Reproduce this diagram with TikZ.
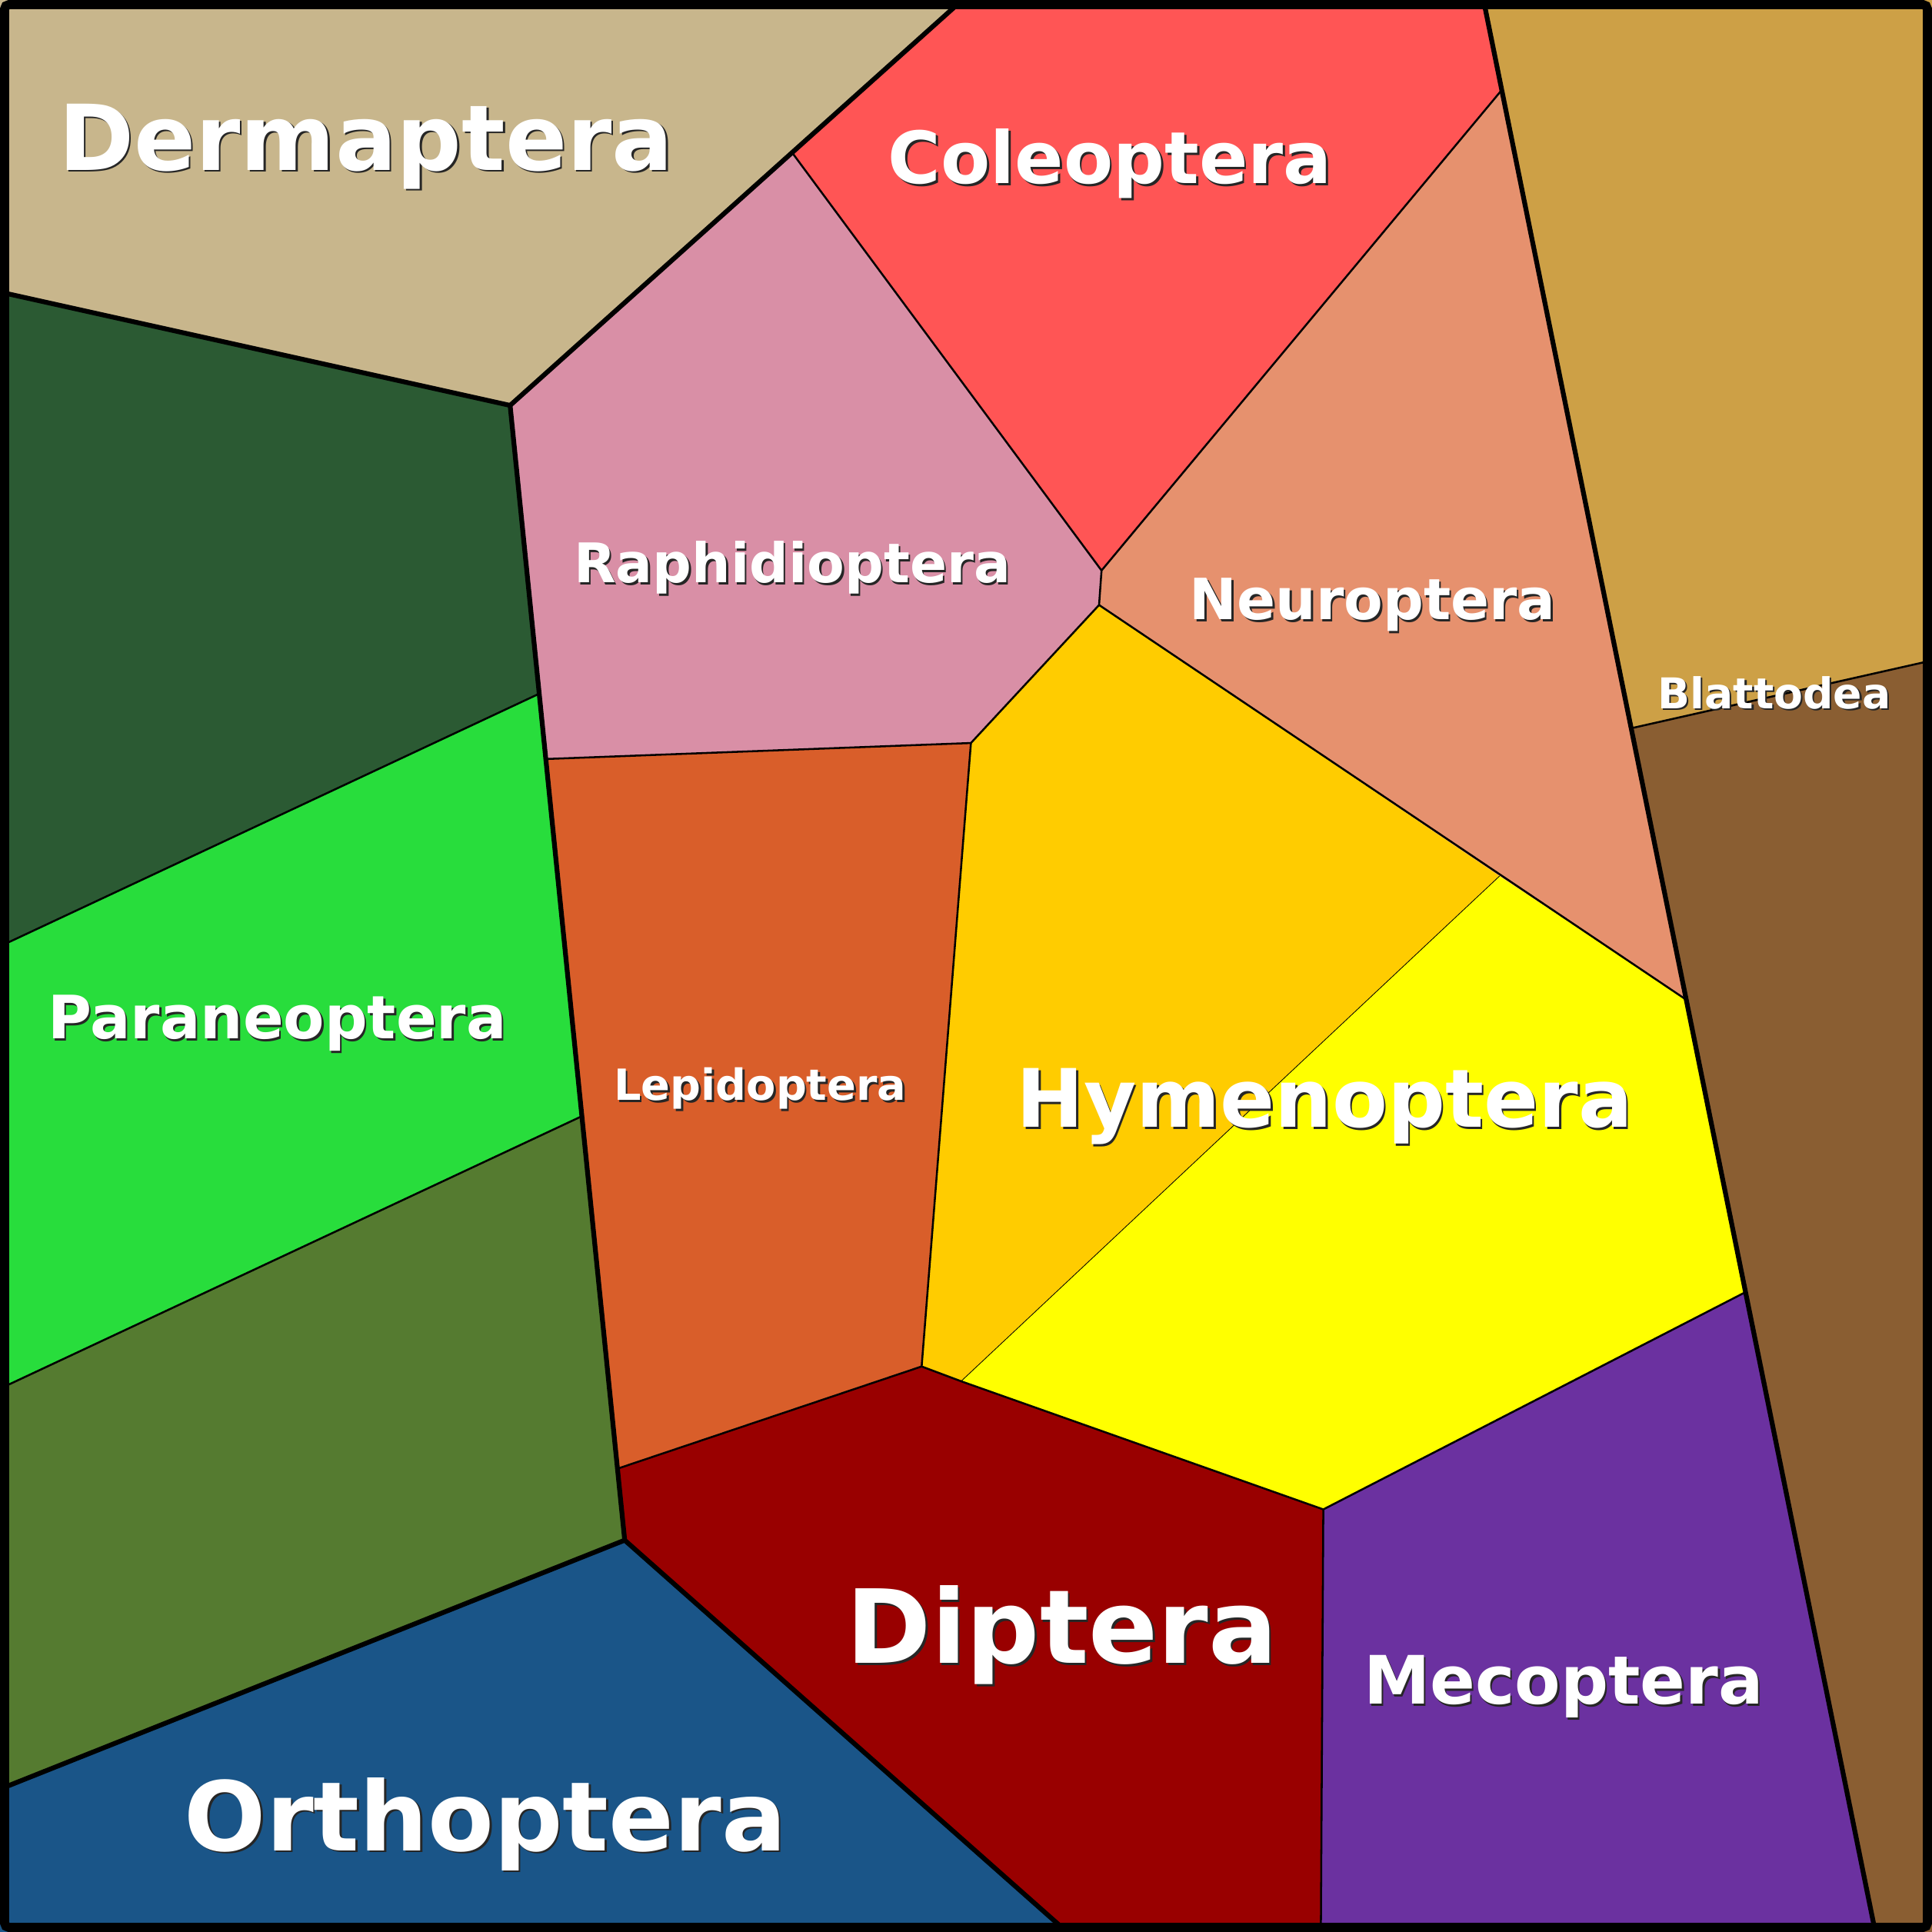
\documentclass[tikz,border=0pt]{standalone}
\usepackage{fontspec}
\setmainfont{DejaVu Sans}
\definecolor{dermcol}{HTML}{C8B68C}
\definecolor{colecol}{HTML}{FF5555}
\definecolor{raphcol}{HTML}{D98FA6}
\definecolor{neurcol}{HTML}{E6916E}
\definecolor{blatcol}{HTML}{CDA046}
\definecolor{blatdark}{HTML}{8A5E32}
\definecolor{darkgreen}{HTML}{2B5A33}
\definecolor{paracol}{HTML}{28DD3C}
\definecolor{olivecol}{HTML}{557B30}
\definecolor{lepicol}{HTML}{D95E2A}
\definecolor{hymecol}{HTML}{FFCC00}
\definecolor{hymeyel}{HTML}{FFFF00}
\definecolor{diptcol}{HTML}{990000}
\definecolor{mecocol}{HTML}{6B31A0}
\definecolor{orthcol}{HTML}{1A5588}
% label with a small drop shadow: name, x, y (baseline), size, text
\newcommand{\orderlabel}[5]{%
  \node[lblshadow,font=\fontsize{#4}{#4}\selectfont\bfseries] (#1s) at ([shift={(0.45pt,-0.45pt)}]#2,#3) {#5};
  \node[lbl,font=\fontsize{#4}{#4}\selectfont\bfseries] (#1) at (#2,#3) {#5};}
\begin{document}
\begin{tikzpicture}[x=0.01cm, y=-0.01cm,
  lbl/.style={anchor=base,text=white,inner sep=0pt},
  lblshadow/.style={anchor=base,text=black!85,inner sep=0pt},
  major/.style={line width=1.1pt,line cap=round,line join=round},
  minor/.style={line width=0.45pt,line join=round},
  hair/.style={line width=0.15pt}]
\useasboundingbox (0,0) rectangle (1568,1568);
% vertices
\coordinate (A) at (781,0);    \coordinate (B) at (643,124);
\coordinate (C) at (414,329);  \coordinate (D) at (0,237);
\coordinate (E) at (1204,0);   \coordinate (F) at (1218,74);
\coordinate (G) at (894,463);  \coordinate (H) at (892,491);
\coordinate (I) at (788,603);  \coordinate (J) at (443,616);
\coordinate (K) at (437.6,563);\coordinate (L) at (0,768);
\coordinate (M) at (472,906);  \coordinate (N) at (0,1127);
\coordinate (O) at (501,1192); \coordinate (P) at (507,1250);
\coordinate (Q) at (0,1452);   \coordinate (R) at (866,1568);
\coordinate (S) at (748,1109); \coordinate (T) at (780,1121);
\coordinate (U) at (1074,1225);\coordinate (V) at (1072,1568);
\coordinate (W) at (1416,1049);\coordinate (X) at (1522,1568);
\coordinate (Y) at (1368,811); \coordinate (Z) at (1217,711);
\coordinate (AA) at (1324,591);\coordinate (AB) at (1568,536);
\coordinate (TR) at (1568,0);  \coordinate (BR) at (1568,1568);
\coordinate (TL) at (0,0);     \coordinate (BL) at (0,1568);
% regions
\fill[dermcol] (TL) -- (A) -- (B) -- (C) -- (D) -- cycle;
\fill[colecol] (A) -- (E) -- (F) -- (G) -- (B) -- cycle;
\fill[raphcol] (B) -- (G) -- (H) -- (I) -- (J) -- (C) -- cycle;
\fill[neurcol] (F) -- (Y) -- (Z) -- (H) -- (G) -- cycle;
\fill[blatcol] (E) -- (TR) -- (AB) -- (AA) -- cycle;
\fill[blatdark] (AA) -- (AB) -- (BR) -- (X) -- cycle;
\fill[darkgreen] (D) -- (C) -- (K) -- (L) -- cycle;
\fill[paracol] (L) -- (K) -- (M) -- (N) -- cycle;
\fill[olivecol] (N) -- (M) -- (P) -- (Q) -- cycle;
\fill[lepicol] (J) -- (I) -- (S) -- (O) -- cycle;
\fill[hymecol] (H) -- (Z) -- (T) -- (S) -- (I) -- cycle;
\fill[hymeyel] (Z) -- (Y) -- (W) -- (U) -- (T) -- cycle;
\fill[diptcol] (O) -- (S) -- (T) -- (U) -- (V) -- (R) -- (P) -- cycle;
\fill[mecocol] (U) -- (W) -- (X) -- (V) -- cycle;
\fill[orthcol] (Q) -- (P) -- (R) -- (BL) -- cycle;
% borders inside groups
\draw[minor] (B) -- (G) -- (F);
\draw[minor] (G) -- (H) -- (I) -- (J);
\draw[minor] (I) -- (S);
\draw[minor] (O) -- (S) -- (T) -- (U) -- (V);
\draw[minor] (U) -- (W);
\draw[minor] (H) -- (Y);
\draw[minor] (K) -- (L);
\draw[minor] (M) -- (N);
\draw[minor] (AA) -- (AB);
\draw[hair] (T) -- (Z);
% borders between groups
\draw[major] (A) -- (C) -- (P) -- (R);
\draw[major] (D) -- (C);
\draw[major] (Q) -- (P);
\draw[major] (E) -- (X);
% frame
\draw[line width=2.1pt,rounded corners=1pt] (3.75,3.75) rectangle (1564.25,1564.25);
% labels
\orderlabel{derm}{297}{138}{21}{Dermaptera}
\orderlabel{cole}{901}{149}{16.6}{Coleoptera}
\orderlabel{raph}{643}{473}{12.6}{Raphidioptera}
\orderlabel{neur}{1114}{503}{13.1}{Neuroptera}
\orderlabel{blat}{1440}{575}{9.8}{Blattodea}
\orderlabel{para}{225}{843}{13.8}{Paraneoptera}
\orderlabel{lepi}{617}{893}{9.9}{Lepidoptera}
\orderlabel{hyme}{1075}{915}{18.6}{Hymenoptera}
\orderlabel{dipt}{862}{1350}{23.6}{Diptera}
\orderlabel{meco}{1269}{1383}{15.4}{Mecoptera}
\orderlabel{orth}{394}{1502}{22.2}{Orthoptera}
\end{tikzpicture}
\end{document}
